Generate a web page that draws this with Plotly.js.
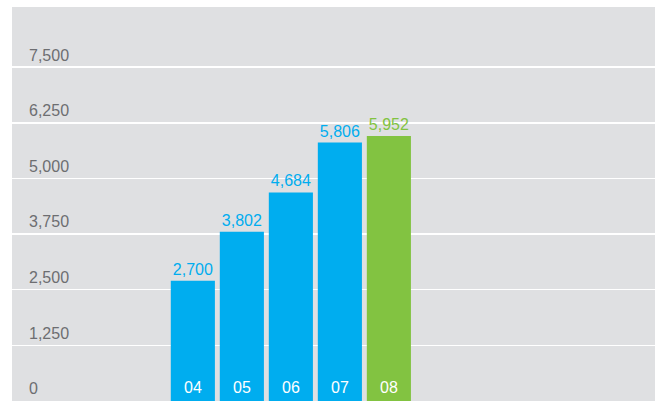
<!DOCTYPE html>
<html>
<head>
<meta charset="utf-8">
<script src="https://cdn.plot.ly/plotly-3.0.1.min.js"></script>
<style>html,body{margin:0;padding:0;background:#fff;}#chart{width:657px;height:401px;}</style>
</head>
<body>
<div id="chart"></div>
<script>
const categories = ["04", "05", "06", "07", "08"];
const values = [2700, 3802, 4684, 5806, 5952];
const barColors = ["#00adef", "#00adef", "#00adef", "#00adef", "#82c341"];
const yTickVals = [0, 1250, 2500, 3750, 5000, 6250, 7500];
const yTickText = ["0", "1,250", "2,500", "3,750", "5,000", "6,250", "7,500"];

const font = "Liberation Sans, Arial, Helvetica, sans-serif";

const trace = {
  type: "bar",
  x: categories,
  y: values,
  marker: {color: barColors, line: {width: 0}},
  text: values.map(v => v.toLocaleString("en-US")),
  textposition: "outside",
  textfont: {family: font, size: 16, color: barColors},
  cliponaxis: false,
  hoverinfo: "none"
};

const annotations = categories.map((c, i) => ({
  x: i, y: 0, xref: "x", yref: "y",
  text: c, showarrow: false,
  yanchor: "bottom", yshift: 3,
  font: {family: font, size: 16, color: "#ffffff"}
}));

const layout = {
  width: 657, height: 401,
  margin: {l: 12, r: 2, t: 7, b: 0, pad: 0},
  paper_bgcolor: "#ffffff",
  plot_bgcolor: "#dfe0e2",
  bargap: 0.1,
  showlegend: false,
  xaxis: {
    type: "category",
    range: [-3.69, 9.43],
    showgrid: false, zeroline: false, showline: false,
    showticklabels: false, ticks: "", fixedrange: true
  },
  yaxis: {
    range: [0, 8850],
    tickvals: yTickVals,
    ticktext: yTickText,
    showgrid: true, gridcolor: "#ffffff", gridwidth: 1.5,
    zeroline: false, showline: false, ticks: "",
    ticklabelposition: "inside top",
    ticklabelstandoff: 14,
    ticklabelshift: -1,
    tickfont: {family: font, size: 16, color: "#6d6e71"},
    fixedrange: true
  },
  annotations: annotations
};

Plotly.newPlot("chart", [trace], layout, {displayModeBar: false, staticPlot: true});
</script>
</body>
</html>
